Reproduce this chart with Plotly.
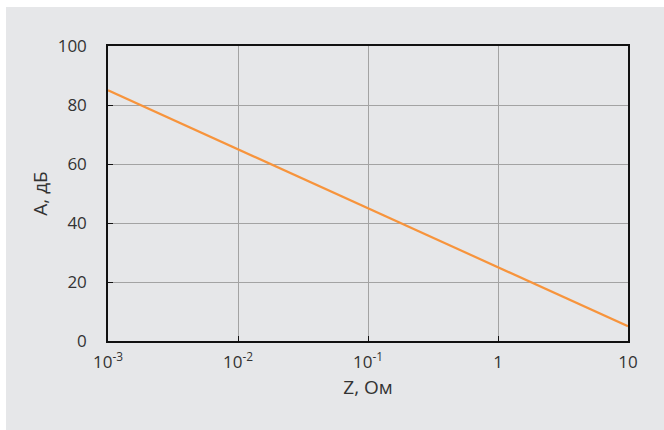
import plotly.graph_objects as go

z_ohm = [0.001, 0.01, 0.1, 1, 10]
a_db = [85, 65, 45, 25, 5]

x_tickvals = [0.001, 0.01, 0.1, 1, 10]
x_ticktext = ["10<sup>-3</sup>", "10<sup>-2</sup>", "10<sup>-1</sup>", "1", "10"]
y_tickvals = [0, 20, 40, 60, 80, 100]

BG = "#e6e7e9"
FONT = dict(family="Open Sans", size=16, color="#333333", weight=400)
TICKFONT = dict(family="Open Sans", size=17, color="#333333", weight=400)

fig = go.Figure()
fig.add_trace(go.Scatter(x=z_ohm, y=a_db, mode="lines",
                         line=dict(color="#f7943c", width=2.2), showlegend=False))

L, R, T, B = 108, 36, 46, 89
W, H = 664, 430
pw, ph = W - L - R, H - T - B
fig.add_shape(type="rect", xref="paper", yref="paper",
              x0=(6 - L) / pw, x1=(W + 5 - L) / pw,
              y0=-(B + 5) / ph, y1=(H - B - 7) / ph,
              fillcolor=BG, line=dict(width=0), layer="below")

fig.update_xaxes(type="log", range=[-3, 1], tickvals=x_tickvals, ticktext=x_ticktext,
                 showgrid=True, gridcolor="#a3a3a3", gridwidth=1,
                 showline=True, linecolor="#111111", linewidth=1.5, mirror=True,
                 ticks="inside", ticklen=5, tickcolor="#111111",
                 ticklabelstandoff=5,
                 title=dict(text="Z, Ом", standoff=9), tickfont=TICKFONT, zeroline=False)
fig.update_yaxes(range=[0, 100], tickvals=y_tickvals,
                 showgrid=True, gridcolor="#a3a3a3", gridwidth=1,
                 showline=True, linecolor="#111111", linewidth=1.5, mirror=True,
                 ticks="inside", ticklen=5, tickcolor="#111111",
                 ticklabelstandoff=16,
                 title=dict(text="A, дБ", standoff=5), tickfont=TICKFONT, zeroline=False)

fig.update_layout(width=W, height=H, margin=dict(l=L, r=R, t=T, b=B),
                  paper_bgcolor="white", plot_bgcolor=BG, font=dict(FONT))

fig.write_html("out.html")
